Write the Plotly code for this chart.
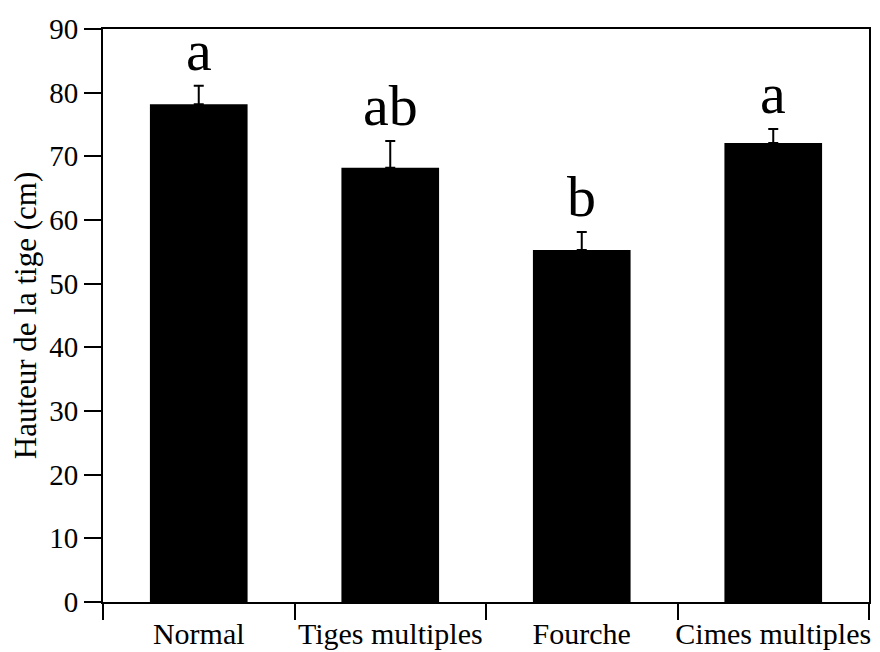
import plotly.graph_objects as go

categories = ["Normal", "Tiges multiples", "Fourche", "Cimes multiples"]
heights = [78.2, 68.2, 55.3, 72.1]
errors = [2.9, 4.2, 2.8, 2.2]
letters = ["a", "ab", "b", "a"]
y_ticks = [0, 10, 20, 30, 40, 50, 60, 70, 80, 90]

FONT = "Liberation Serif"

fig = go.Figure()
fig.add_trace(go.Bar(
    x=categories, y=heights,
    marker=dict(color="black", line=dict(width=0)),
    error_y=dict(type="data", symmetric=False, array=errors,
                 arrayminus=[0] * len(errors), color="black",
                 thickness=2, width=5),
    showlegend=False,
))

for c, h, e, t in zip(categories, heights, errors, letters):
    fig.add_annotation(x=c, y=h + e, text=t, showarrow=False,
                       yanchor="bottom", yshift=1,
                       font=dict(family=FONT, size=58, color="black"))

fig.update_layout(
    width=872, height=644,
    margin=dict(l=95, r=11, t=21, b=50),
    paper_bgcolor="white", plot_bgcolor="white",
    bargap=0.49,
    font=dict(family=FONT, color="black"),
)
fig.update_xaxes(
    showline=True, linecolor="black", linewidth=2, mirror=True,
    ticks="outside", ticklen=16, tickwidth=2, tickcolor="black",
    tickson="boundaries", showgrid=False, tickangle=0, automargin=False,
    ticklabelstandoff=4,
    tickfont=dict(family=FONT, size=30, color="black"),
)
fig.update_yaxes(
    range=[0, 90], tickvals=y_ticks, automargin=False,
    showline=True, linecolor="black", linewidth=2, mirror=True,
    ticks="outside", ticklen=17, tickwidth=2, tickcolor="black",
    showgrid=False, zeroline=False,
    tickfont=dict(family=FONT, size=29, color="black"),
    title=dict(text="Hauteur de la tige (cm)", standoff=8,
               font=dict(family=FONT, size=31, color="black")),
)

fig.write_html("out.html")
